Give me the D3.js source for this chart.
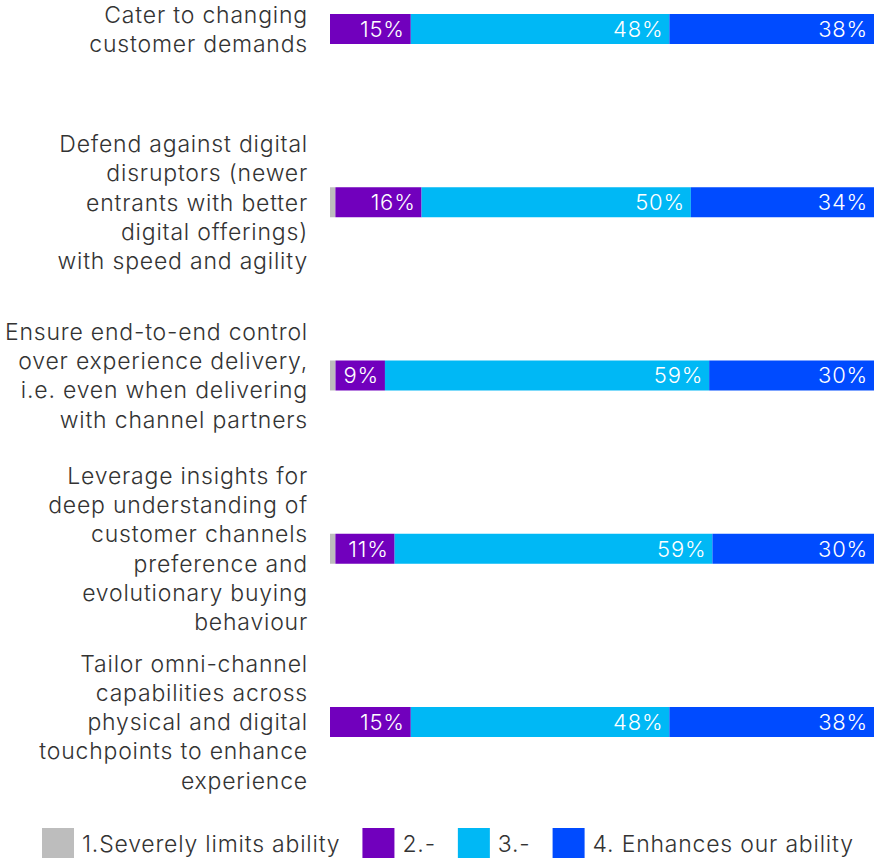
<!DOCTYPE html>
<html>
<head>
<meta charset="utf-8">
<script src="https://cdn.jsdelivr.net/npm/d3@7"></script>
<style>
  html, body { margin: 0; padding: 0; background: #fff; }
  svg { display: block; }
  text { font-family: "Inter", "Roboto", sans-serif; letter-spacing: 0.8px; }
</style>
</head>
<body>
<svg id="chart" width="874" height="858"></svg>
<script>
// Category labels (pre-broken into lines)
const categories = [
  ["Cater to changing", "customer demands"],
  ["Defend against digital", "disruptors (newer", "entrants with better", "digital offerings)", "with speed and agility"],
  ["Ensure end-to-end control", "over experience delivery,", "i.e. even when delivering", "with channel partners"],
  ["Leverage insights for", "deep understanding of", "customer channels", "preference and", "evolutionary buying", "behaviour"],
  ["Tailor omni-channel", "capabilities across", "physical and digital", "touchpoints to enhance", "experience"]
];

// Series names and values (percent of respondents)
const seriesNames = ["1.Severely limits ability", "2.-", "3.-", "4. Enhances our ability"];
const severelyLimits = [0, 1, 1, 1, 0];
const rating2 = [15, 16, 9, 11, 15];
const rating3 = [48, 50, 59, 59, 48];
const enhances = [38, 34, 30, 30, 38];
const seriesColors = ["#bdbdbd", "#7100bd", "#00b8f5", "#004bff"];

const seriesValues = [severelyLimits, rating2, rating3, enhances];

const svg = d3.select("#chart");
const barLeft = 330, barRight = 874;
const barH = 30;
const lineH = 29.2;
const fontSize = 23;

// Each bar is stacked to the full width (shares of the row total)
const rows = categories.map((lines, i) => {
  const vals = seriesValues.map(s => s[i]);
  const total = d3.sum(vals);
  let acc = 0;
  const segs = vals.map((v, k) => {
    const s = { key: k, value: v, x0: acc / total, x1: (acc + v) / total };
    acc += v;
    return s;
  });
  return { id: i, lines, segs };
});

const y = d3.scalePoint()
  .domain(rows.map(r => r.id))
  .range([29, 722]);

const x = d3.scaleLinear()
  .domain([0, 1])
  .range([barLeft, barRight]);

const g = svg.append("g");

const row = g.selectAll("g.row")
  .data(rows)
  .join("g")
  .attr("class", "row");

// Stacked segments
row.selectAll("rect")
  .data(r => r.segs.map(s => ({ ...s, row: r.id })))
  .join("rect")
  .attr("x", d => x(d.x0))
  .attr("y", d => y(d.row) - barH / 2)
  .attr("width", d => x(d.x1) - x(d.x0))
  .attr("height", barH)
  .attr("fill", d => seriesColors[d.key]);

// Value labels inside segments
row.selectAll("text.val")
  .data(r => r.segs.filter(s => s.key > 0 && s.value > 0).map(s => ({ ...s, row: r.id })))
  .join("text")
  .attr("class", "val")
  .attr("x", d => x(d.x1) - 6)
  .attr("y", d => y(d.row))
  .attr("dy", "0.36em")
  .attr("text-anchor", "end")
  .attr("fill", "#fff")
  .attr("font-size", 22)
  .attr("font-weight", 300)
  .text(d => d.value + "%");

// Category labels, right-aligned and vertically centred on each bar
row.append("text")
  .attr("class", "cat")
  .attr("text-anchor", "end")
  .attr("fill", "#333")
  .attr("font-size", fontSize)
  .attr("font-weight", 300)
  .each(function(r) {
    const t = d3.select(this);
    const n = r.lines.length;
    r.lines.forEach((ln, j) => {
      t.append("tspan")
        .attr("x", 308)
        .attr("y", y(r.id) + (j - (n - 1) / 2) * lineH)
        .attr("dy", "0.36em")
        .text(ln);
    });
  });

// Legend
const legend = svg.append("g").attr("class", "legend");
let lx = 42;
const ly = 828;
seriesNames.forEach((name, k) => {
  legend.append("rect")
    .attr("x", lx).attr("y", ly)
    .attr("width", 32).attr("height", 30)
    .attr("fill", seriesColors[k]);
  const t = legend.append("text")
    .attr("x", lx + 40)
    .attr("y", ly + 16)
    .attr("dy", "0.36em")
    .attr("fill", "#333")
    .attr("font-size", fontSize)
    .attr("font-weight", 300)
    .text(name);
  lx += 40 + t.node().getComputedTextLength() + 22;
});
</script>
</body>
</html>
